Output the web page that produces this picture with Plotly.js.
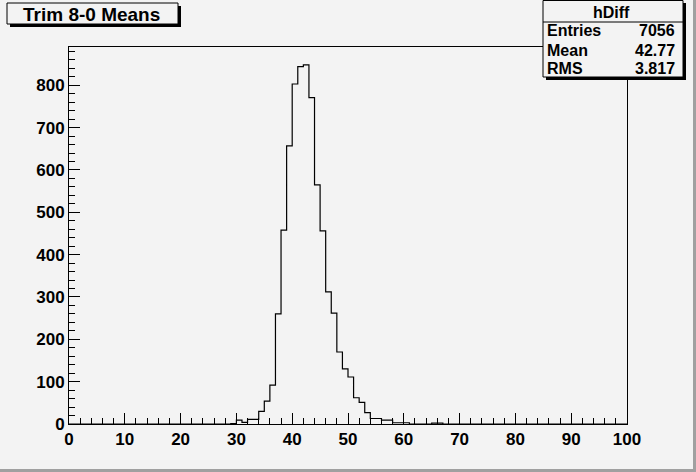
<!DOCTYPE html>
<html>
<head>
<meta charset="utf-8">
<script src="https://cdn.plot.ly/plotly-3.0.1.min.js"></script>
<style>
  html, body { margin: 0; padding: 0; background: #f3f3f3; }
  #chart { width: 696px; height: 472px; }
</style>
</head>
<body>
<div id="chart"></div>
<script>
// ---- Data ----
const histName = "hDiff";
const chartTitle = "Trim 8-0 Means";
const binEdges = [];            // 100 bins of width 1 from 0 to 100
for (let i = 0; i <= 100; i++) binEdges.push(i);
const counts = [
  0,0,0,0,0,0,0,0,0,0,          // 0-9
  0,0,0,0,0,0,0,0,0,0,          // 10-19
  0,0,0,0,0,0,0,0,0,1,          // 20-29
  9,4,11,11,30,54,92,260,458,657,   // 30-39
  803,844,848,771,565,456,312,262,170,130, // 40-49
  111,62,51,27,13,13,9,9,3,3,   // 50-59
  3,0,0,0,0,2,2,0,0,0,          // 60-69
  0,0,0,0,0,0,0,0,0,0,          // 70-79
  0,0,0,0,0,0,0,0,0,0,          // 80-89
  0,0,0,0,0,0,0,0,0,0           // 90-99
];
const statLabels = ["Entries", "Mean", "RMS"];
const statValues = ["7056", "42.77", "3.817"];

// ---- Layout helpers ----
const W = 696, H = 472;
const M = { l: 69, r: 69, t: 47, b: 48 };
const PW = W - M.l - M.r, PH = H - M.t - M.b;
const xp = px => (px - M.l) / PW;
const yp = py => (H - M.b - py) / PH;

const bg = "#f3f3f3";
const fontFam = "Liberation Sans, Arial, Helvetica, sans-serif";

const yMax = 1.05 * Math.max(...counts);

const trace = {
  type: "scatter",
  mode: "lines",
  x: binEdges,
  y: counts.concat([counts[counts.length - 1]]),
  line: { shape: "hv", color: "black", width: 1.2 },
  hoverinfo: "skip",
  showlegend: false
};

function rect(x0, y0, x1, y1, fill, line) {
  return {
    type: "rect", xref: "paper", yref: "paper", layer: "above",
    x0: xp(x0), x1: xp(x1), y0: yp(y1), y1: yp(y0),
    fillcolor: fill, line: line ? { color: line, width: 1 } : { width: 0 }
  };
}

const shapes = [
  // canvas border (right / bottom)
  rect(693, 0, 696, 472, "#a0a0a0", null),
  rect(0, 469, 696, 472, "#a0a0a0", null),
  // title box
  rect(10, 6, 181, 27, "black", null),
  rect(7, 3, 178, 24, bg, "black"),
  // stats box
  rect(546, 3, 686, 80, "black", null),
  rect(543, 0.5, 683, 77, bg, "black"),
  { type: "line", xref: "paper", yref: "paper", layer: "above",
    x0: xp(543), x1: xp(683), y0: yp(22), y1: yp(22),
    line: { color: "black", width: 1 } }
];

const boldFont = (size) => ({ family: fontFam, size: size, color: "black", weight: "bold" });

const annotations = [
  { text: chartTitle, xref: "paper", yref: "paper", x: xp(91), y: yp(14.5),
    xanchor: "center", yanchor: "middle", showarrow: false, font: boldFont(19) },
  { text: histName, xref: "paper", yref: "paper", x: xp(611), y: yp(12.5),
    xanchor: "center", yanchor: "middle", showarrow: false, font: boldFont(16) }
];
const rowY = [31, 50, 69];
statLabels.forEach((lab, i) => {
  annotations.push({ text: lab, xref: "paper", yref: "paper", x: xp(545), y: yp(rowY[i]),
    xanchor: "left", yanchor: "middle", showarrow: false, font: boldFont(16) });
  annotations.push({ text: statValues[i], xref: "paper", yref: "paper", x: xp(677), y: yp(rowY[i]),
    xanchor: "right", yanchor: "middle", showarrow: false, font: boldFont(16) });
});

const axisCommon = {
  showgrid: false, zeroline: false,
  showline: true, mirror: true, linecolor: "black", linewidth: 1,
  ticks: "inside", tickcolor: "black", tickwidth: 1, ticklen: 11,
  tickfont: boldFont(17), fixedrange: true
};

const layout = {
  width: W, height: H,
  margin: M,
  paper_bgcolor: bg, plot_bgcolor: bg,
  showlegend: false,
  xaxis: Object.assign({}, axisCommon, {
    range: [0, 100], tickmode: "linear", tick0: 0, dtick: 10,
    minor: { ticks: "inside", dtick: 2, ticklen: 6, tickcolor: "black", tickwidth: 1, showgrid: false }
  }),
  yaxis: Object.assign({}, axisCommon, {
    range: [0, yMax], tickmode: "linear", tick0: 0, dtick: 100,
    minor: { ticks: "inside", dtick: 20, ticklen: 6, tickcolor: "black", tickwidth: 1, showgrid: false }
  }),
  shapes: shapes,
  annotations: annotations
};

Plotly.newPlot("chart", [trace], layout, { displayModeBar: false, staticPlot: true });
</script>
</body>
</html>
